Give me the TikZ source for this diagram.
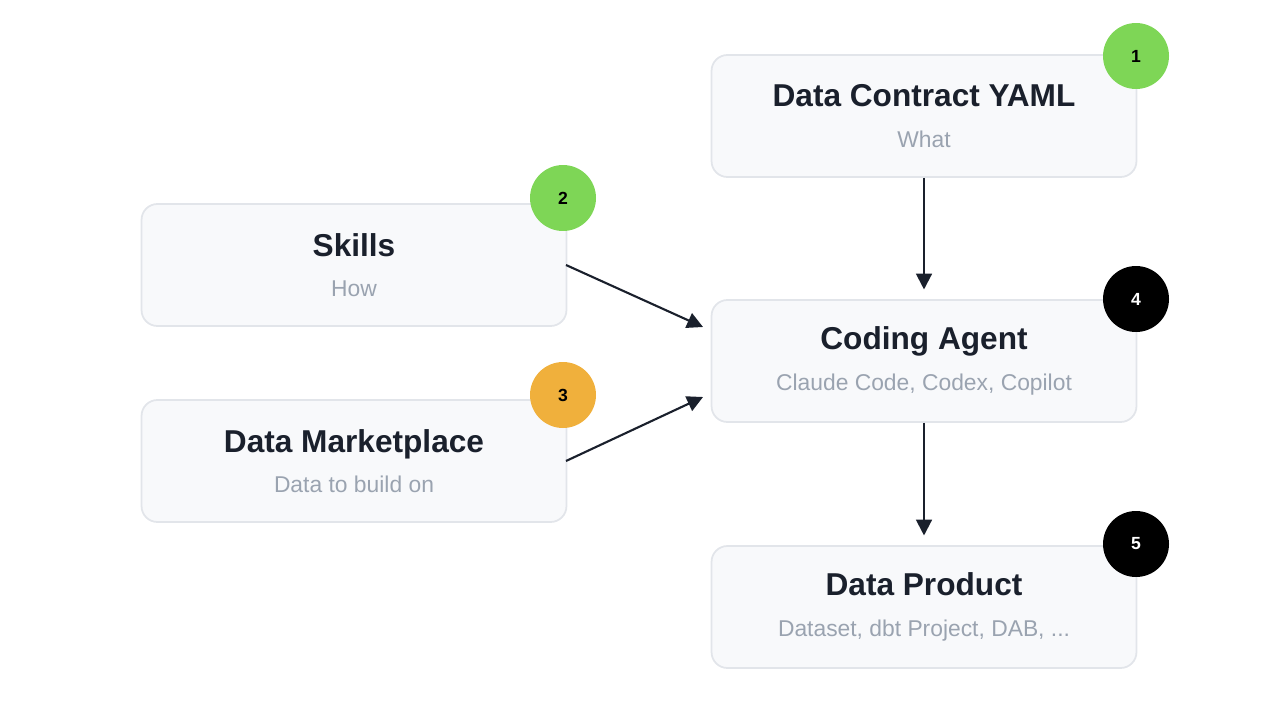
\documentclass[tikz,border=0pt]{standalone}
\usepackage{fontspec}
\setmainfont{Liberation Sans}
\usetikzlibrary{arrows.meta}
\definecolor{boxfill}{HTML}{F8F9FB}
\definecolor{boxline}{HTML}{E2E5EA}
\definecolor{titlecol}{HTML}{1A202C}
\definecolor{subcol}{HTML}{9AA3B0}
\definecolor{badgegreen}{HTML}{7ED656}
\definecolor{badgeorange}{HTML}{F0B03C}
\begin{document}
\begin{tikzpicture}[x=0.02cm, y=-0.02cm, >={Triangle[length=9pt,width=9pt]}]
\tikzset{
  box/.style={
    draw=boxline, fill=boxfill, line width=1pt, rectangle, rounded corners=9pt,
    minimum width=8.5cm, minimum height=2.44cm,
    align=center, text=titlecol, font=\bfseries\fontsize{18}{22}\selectfont
  },
  badge/.style={circle, minimum size=1.32cm, inner sep=0pt, font=\bfseries\fontsize{10}{12}\selectfont},
  link/.style={->, line width=1.2pt, draw=titlecol}
}
\useasboundingbox (0,0) rectangle (1280,720);
\newcommand{\sub}[1]{\\[1pt]{\mdseries\color{subcol}\fontsize{13}{16}\selectfont #1}}
\node[box] (contract) at (924,116) {Data Contract YAML\sub{What}};
\node[box] (skills) at (354,265) {Skills\sub{How}};
\node[box] (market) at (354,461) {Data Marketplace\sub{Data to build on}};
\node[box] (agent) at (924,361) {Coding Agent\sub{Claude Code, Codex, Copilot}};
\node[box] (product) at (924,607) {Data Product\sub{Dataset, dbt Project, DAB, ...}};

\node[badge, fill=badgegreen] (b1) at (1136,56) {1};
\node[badge, fill=badgegreen] (b2) at (563,198) {2};
\node[badge, fill=badgeorange] (b3) at (563,395) {3};
\node[badge, fill=black, text=white] (b4) at (1136,299) {4};
\node[badge, fill=black, text=white] (b5) at (1136,544) {5};

\coordinate (skillsout) at (566,265);
\coordinate (marketout) at (566,461);
\coordinate (agentinA) at (703,327);
\coordinate (agentinB) at (703,397);
\draw[link, shorten >=5.5pt] (contract) -- (agent);
\draw[link] (skillsout) -- (agentinA);
\draw[link] (marketout) -- (agentinB);
\draw[link, shorten >=5.5pt] (agent) -- (product);
\end{tikzpicture}
\end{document}
